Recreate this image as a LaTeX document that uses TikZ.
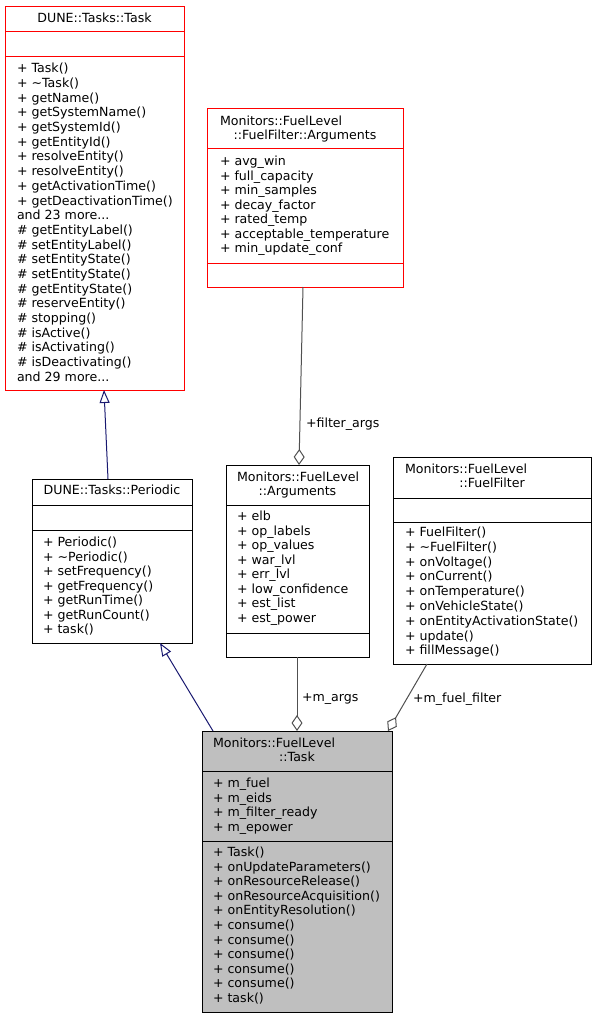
\documentclass[tikz,border=0pt]{standalone}
\usepackage{fontspec}
\setmainfont{DejaVu Sans}
\usetikzlibrary{arrows.meta}
\definecolor{dxred}{HTML}{FF0000}
\definecolor{dxnavy}{HTML}{191970}
\definecolor{dxgray}{HTML}{505050}
\definecolor{dxfill}{HTML}{BFBFBF}
\newcommand\umlfont{\fontsize{12.6}{14.7}\selectfont}
\newcommand\mdots{...}
\begin{document}
\begin{tikzpicture}[x=1pt,y=-1pt,
  box/.style={draw, line width=1pt, inner sep=0pt, outer sep=0pt, fill=white},
  redbox/.style={box, draw=dxred},
  blkbox/.style={box, draw=black},
  divr/.style={draw=dxred, line width=1pt},
  divb/.style={draw=black, line width=1pt},
  txt/.style={inner sep=0pt, outer sep=0pt, anchor=base west, font=\umlfont},
  ttl/.style={inner sep=0pt, outer sep=0pt, anchor=base, font=\umlfont},
  inh/.style={draw=dxnavy, line width=1pt, -{Triangle[open, length=13pt, width=10pt]}},
  agg/.style={draw=dxgray, line width=1pt, -{Diamond[open, length=16pt, width=11pt]}}]
\useasboundingbox (0,0) rectangle (596,1019);

% ---------- DUNE::Tasks::Task ----------
\node[redbox, minimum width=179pt, minimum height=383pt] (dtask) at (94.5,198.5) {};
\draw[divr] (dtask.west |- 0,32) -- (dtask.east |- 0,32);
\draw[divr] (dtask.west |- 0,57) -- (dtask.east |- 0,57);
\node[ttl] (dtt) at (94.5,22.5) {DUNE::Tasks::Task};
\foreach \t [count=\i from 0] in {+ Task(), + \textasciitilde Task(), + getName(), + getSystemName(), + getSystemId(), + getEntityId(), + resolveEntity(), + resolveEntity(), + getActivationTime(), + getDeactivationTime(), and 23 more\mdots, \# getEntityLabel(), \# setEntityLabel(), \# setEntityState(), \# setEntityState(), \# getEntityState(), \# reserveEntity(), \# stopping(), \# isActive(), \# isActivating(), \# isDeactivating(), and 29 more\mdots}
  \node[txt] (dtm\i) at (17,72.8+14.69*\i) {\t};

% ---------- FuelFilter::Arguments ----------
\node[redbox, minimum width=196pt, minimum height=178pt] (ffargs) at (305,198) {};
\draw[divr] (ffargs.west |- 0,149) -- (ffargs.east |- 0,149);
\draw[divr] (ffargs.west |- 0,263) -- (ffargs.east |- 0,263);
\node[txt] (fft1) at (220,125.5) {Monitors::FuelLevel};
\node[ttl] (fft2) at (305,139.8) {::FuelFilter::Arguments};
\foreach \t [count=\i from 0] in {+ avg\_win, + full\_capacity, + min\_samples, + decay\_factor, + rated\_temp, + acceptable\_temperature, + min\_update\_conf}
  \node[txt] (ffa\i) at (220,165.5+14.5*\i) {\t};

% ---------- DUNE::Tasks::Periodic ----------
\node[blkbox, minimum width=160pt, minimum height=164pt] (periodic) at (112,561) {};
\draw[divb] (periodic.west |- 0,505) -- (periodic.east |- 0,505);
\draw[divb] (periodic.west |- 0,530) -- (periodic.east |- 0,530);
\node[ttl] (pt) at (112,494.5) {DUNE::Tasks::Periodic};
\foreach \t [count=\i from 0] in {+ Periodic(), + \textasciitilde Periodic(), + setFrequency(), + getFrequency(), + getRunTime(), + getRunCount(), + task()}
  \node[txt] (pm\i) at (43,546.5+14.5*\i) {\t};

% ---------- Monitors::FuelLevel::Arguments ----------
\node[blkbox, minimum width=143pt, minimum height=192pt] (args) at (297.5,561) {};
\draw[divb] (args.west |- 0,505) -- (args.east |- 0,505);
\draw[divb] (args.west |- 0,633) -- (args.east |- 0,633);
\node[txt] (at1) at (237,481.5) {Monitors::FuelLevel};
\node[ttl] (at2) at (297.5,495.5) {::Arguments};
\foreach \t [count=\i from 0] in {+ elb, + op\_labels, + op\_values, + war\_lvl, + err\_lvl, + low\_confidence, + est\_list, + est\_power}
  \node[txt] (aa\i) at (237,520.5+14.57*\i) {\t};

% ---------- Monitors::FuelLevel::FuelFilter ----------
\node[blkbox, minimum width=198pt, minimum height=207pt] (ffilter) at (492,560.5) {};
\draw[divb] (ffilter.west |- 0,498) -- (ffilter.east |- 0,498);
\draw[divb] (ffilter.west |- 0,522) -- (ffilter.east |- 0,522);
\node[txt] (ft1) at (405,473.5) {Monitors::FuelLevel};
\node[ttl] (ft2) at (492,487.8) {::FuelFilter};
\foreach \t [count=\i from 0] in {+ FuelFilter(), + \textasciitilde FuelFilter(), + onVoltage(), + onCurrent(), + onTemperature(), + onVehicleState(), + onEntityActivationState(), + update(), + fillMessage()}
  \node[txt] (fm\i) at (405,536.5+14.8*\i) {\t};

% ---------- Monitors::FuelLevel::Task ----------
\node[box, draw=black, fill=dxfill, minimum width=190pt, minimum height=281pt] (task) at (297,871.5) {};
\draw[divb] (task.west |- 0,771) -- (task.east |- 0,771);
\draw[divb] (task.west |- 0,841) -- (task.east |- 0,841);
\node[txt] (tt1) at (213,747) {Monitors::FuelLevel};
\node[ttl] (tt2) at (297,761.5) {::Task};
\foreach \t [count=\i from 0] in {+ m\_fuel, + m\_eids, + m\_filter\_ready, + m\_epower}
  \node[txt] (ta\i) at (213,787.5+14.67*\i) {\t};
\foreach \t [count=\i from 0] in {+ Task(), + onUpdateParameters(), + onResourceRelease(), + onResourceAcquisition(), + onEntityResolution(), + consume(), + consume(), + consume(), + consume(), + consume(), + task()}
  \node[txt] (tm\i) at (213,856.5+14.6*\i) {\t};

% ---------- connectors ----------
\draw[inh] ([xshift=-4pt]periodic.north) -- ([xshift=9.5pt]dtask.south);
\draw[inh] ([xshift=-84pt]task.north) -- ([xshift=48pt]periodic.south);
\draw[agg] ([xshift=-2pt]ffargs.south) -- ([xshift=1.5pt]args.north);
\draw[agg] ([xshift=-0.5pt]args.south) -- (task.north);
\draw[agg] ([xshift=-65pt]ffilter.south) -- ([xshift=91pt]task.north);

\node[txt] (lfa) at (306,427.5) {+filter\_args};
\node[txt] (lma) at (302,701.5) {+m\_args};
\node[txt] (lmf) at (413,702.5) {+m\_fuel\_filter};
\end{tikzpicture}
\end{document}
